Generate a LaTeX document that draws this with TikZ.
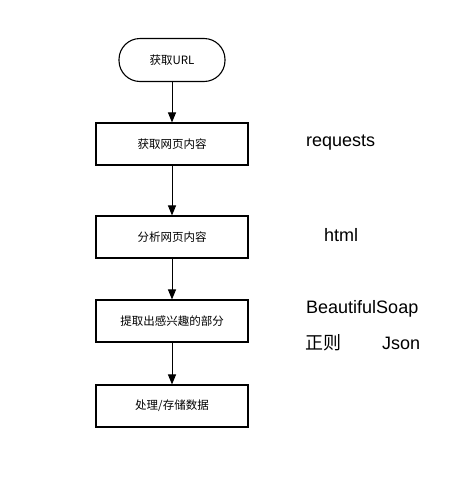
\documentclass[tikz,border=0pt]{standalone}
\usepackage{fontspec}
\setmainfont{Liberation Sans}
\newfontfamily\cjk{Noto Sans CJK SC}
\usetikzlibrary{arrows.meta}
\begin{document}
\begin{tikzpicture}[x=1pt,y=-1pt,
  stepbox/.style={draw,line width=1.1pt,minimum width=152pt,minimum height=42pt,inner sep=0pt,font=\cjk\fontsize{11.5}{13}\selectfont},
  startbox/.style={draw,line width=1.1pt,rounded corners=21pt,minimum width=106pt,minimum height=43pt,inner sep=0pt,font=\cjk\fontsize{11.5}{13}\selectfont},
  flow/.style={line width=1pt,-{Triangle[length=10pt,width=8pt]}},
  side/.style={font=\fontsize{18}{20}\selectfont,anchor=west,inner sep=0pt},
  sidecjk/.style={font=\cjk\fontsize{18}{20}\selectfont,anchor=west,inner sep=0pt}]
\useasboundingbox (0,0) rectangle (475,501);
\node[startbox] (s) at (172,60) {获取URL};
\node[stepbox] (a) at (172,144) {获取网页内容};
\node[stepbox] (b) at (172,237) {分析网页内容};
\node[stepbox] (c) at (172,321) {提取出感兴趣的部分};
\node[stepbox] (d) at (172,406) {处理/存储数据};
\draw[flow] (s) -- (a);
\draw[flow] (a) -- (b);
\draw[flow] (b) -- (c);
\draw[flow] (c) -- (d);
\node[side] (l1) at (306,143) {requests};
\node[side] (l2) at (324,235) {html};
\node[side] (l3) at (306,309) {BeautifulSoap};
\node[sidecjk] (l4) at (305,343) {正则};
\node[side] (l5) at (382,343) {Json};
\end{tikzpicture}
\end{document}
